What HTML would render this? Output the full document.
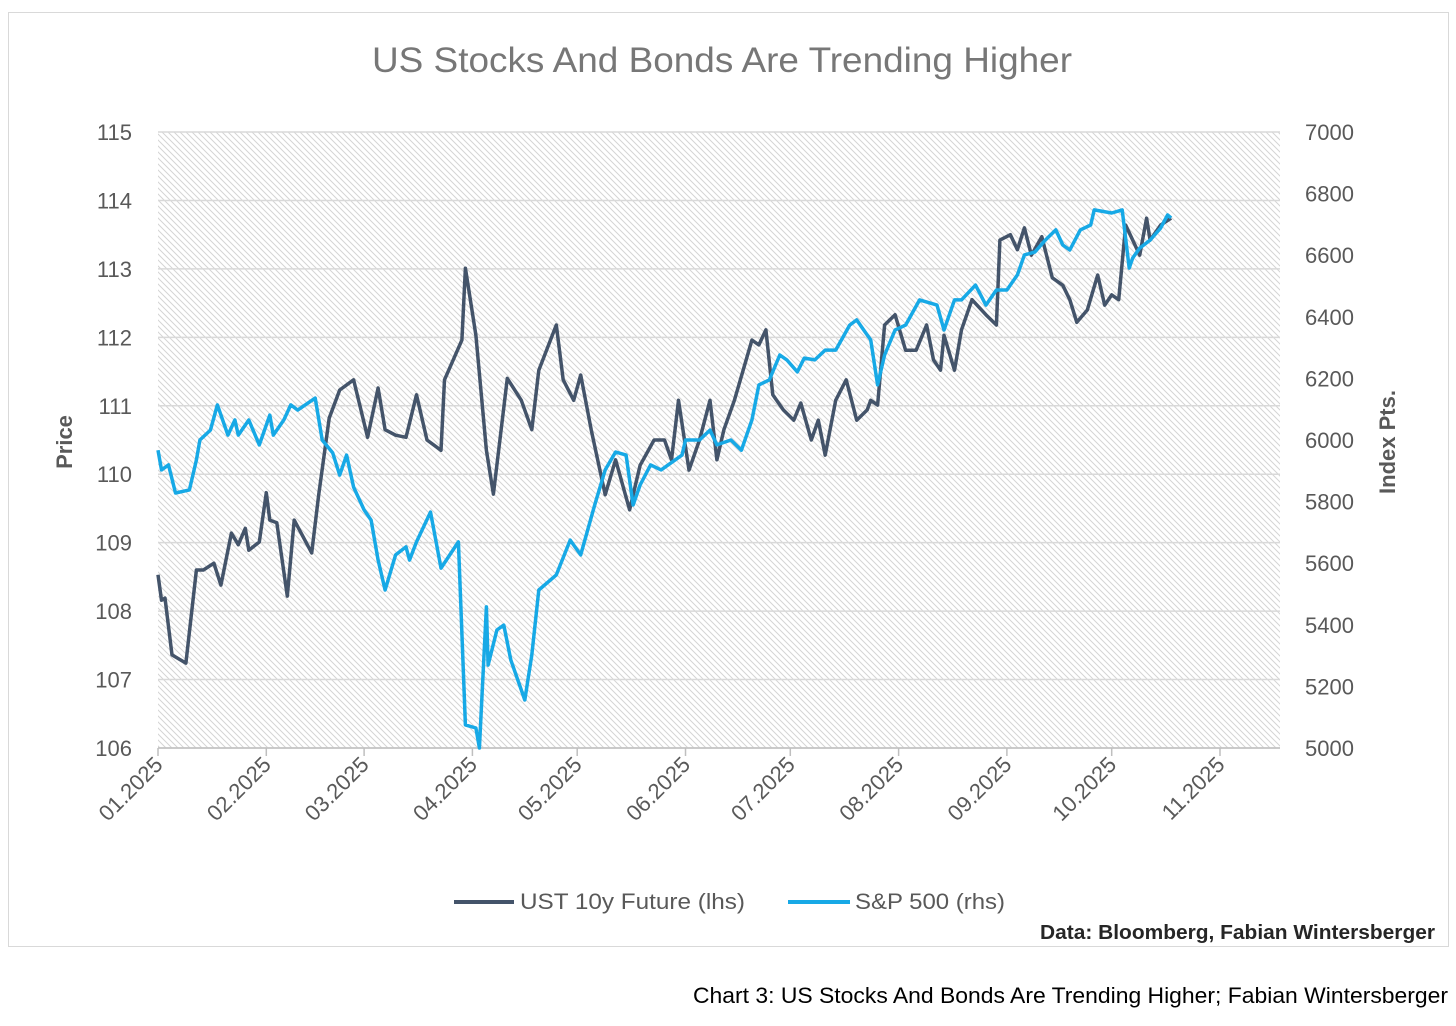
<!DOCTYPE html>
<html><head><meta charset="utf-8"><style>
body{margin:0;background:#fff;width:1456px;height:1021px;overflow:hidden;font-family:"Liberation Sans",sans-serif}
</style></head><body>
<svg width="1456" height="1021" xmlns="http://www.w3.org/2000/svg">
<defs><pattern id="hatch" width="6" height="6" patternUnits="userSpaceOnUse"><path d="M-1,-1 L7,7 M-1,5 L1,7 M5,-1 L7,1" stroke="#d4d4d4" stroke-width="1"/></pattern></defs>
<rect x="8.5" y="12.5" width="1440" height="934" fill="#fff" stroke="#d9d9d9"/>
<text x="722" y="72" text-anchor="middle" font-size="35" fill="#777" textLength="700" lengthAdjust="spacingAndGlyphs">US Stocks And Bonds Are Trending Higher</text>
<rect x="158" y="132" width="1122" height="616" fill="url(#hatch)"/>
<g id="grid"></g><g id="axes"></g>
<g id="series"></g>
<text transform="translate(72,442) rotate(-90)" text-anchor="middle" font-size="22" font-weight="bold" fill="#595959">Price</text>
<text transform="translate(1395,442) rotate(-90)" text-anchor="middle" font-size="22" font-weight="bold" fill="#595959">Index Pts.</text>
<g>
<line x1="454" y1="902" x2="514" y2="902" stroke="#44546a" stroke-width="4"/>
<text x="520" y="909" font-size="22" fill="#595959" textLength="225" lengthAdjust="spacingAndGlyphs">UST 10y Future (lhs)</text>
<line x1="788" y1="902" x2="850" y2="902" stroke="#17a9e6" stroke-width="4"/>
<text x="855" y="909" font-size="22" fill="#595959" textLength="150" lengthAdjust="spacingAndGlyphs">S&amp;P 500 (rhs)</text>
</g>
<text x="1435" y="939" text-anchor="end" font-size="20" font-weight="bold" fill="#262626" textLength="395" lengthAdjust="spacingAndGlyphs">Data: Bloomberg, Fabian Wintersberger</text>
<text x="1448" y="1003" text-anchor="end" font-size="22" fill="#000" textLength="755" lengthAdjust="spacingAndGlyphs">Chart 3: US Stocks And Bonds Are Trending Higher; Fabian Wintersberger</text>
</svg>
<script>
const leftTicks=[106,107,108,109,110,111,112,113,114,115];
const rightTicks=[5000,5200,5400,5600,5800,6000,6200,6400,6600,6800,7000];
const monthLabels=["01.2025","02.2025","03.2025","04.2025","05.2025","06.2025","07.2025","08.2025","09.2025","10.2025","11.2025"];
const monthDays=[0,31,59,90,120,151,181,212,243,273,304];
const ustDays=[0,1,2,4,8,11,13,16,18,21,23,25,26,29,31,32,34,37,39,44,46,49,52,56,60,63,65,68,71,74,77,81,82,87,88,91,94,96,100,104,107,109,114,116,119,121,124,128,131,135,138,142,145,147,149,152,155,158,160,162,165,170,172,174,176,179,182,184,187,189,191,194,197,200,203,204,206,208,211,214,217,220,222,224,225,228,230,233,237,240,241,244,246,248,250,253,256,259,261,263,266,269,271,273,275,277,279,281,283,284,287,290];
const ustValues=[108.53,108.16,108.19,107.36,107.24,108.6,108.6,108.7,108.38,109.14,108.97,109.21,108.89,109.01,109.73,109.33,109.29,108.22,109.33,108.85,109.7,110.82,111.23,111.38,110.54,111.26,110.65,110.57,110.54,111.16,110.5,110.35,111.38,111.96,113.01,112.03,110.35,109.71,111.4,111.08,110.65,111.52,112.18,111.38,111.08,111.45,110.65,109.7,110.21,109.48,110.13,110.5,110.5,110.21,111.08,110.06,110.5,111.08,110.21,110.65,111.08,111.96,111.89,112.11,111.16,110.94,110.79,111.04,110.5,110.79,110.28,111.08,111.38,110.79,110.94,111.08,111.01,112.18,112.33,111.81,111.81,112.18,111.67,111.52,112.03,111.52,112.11,112.55,112.33,112.18,113.42,113.5,113.28,113.6,113.2,113.47,112.87,112.76,112.55,112.22,112.4,112.91,112.47,112.62,112.55,113.64,113.42,113.2,113.74,113.42,113.64,113.74];
const spxDays=[0,1,3,5,9,11,12,15,17,20,22,23,26,29,32,33,36,38,40,45,47,50,52,54,56,59,61,63,65,68,71,72,74,78,81,86,88,91,92,94,94.5,97,99,101,105,107,109,114,118,121,125,128,131,134,136,138,141,144,150,151,155,158,160,164,167,170,172,175,178,180,183,185,188,191,194,198,200,202,204,206,208,211,214,218,223,225,228,230,234,237,240,243,246,248,251,254,257,259,261,264,267,268,273,276,278,279,281,284,287,289,290];
const spxValues=[5967,5903,5919,5828,5838,5935,6000,6032,6114,6016,6065,6016,6065,5984,6081,6016,6065,6114,6097,6136,6000,5958,5886,5951,5847,5773,5740,5610,5513,5627,5653,5610,5669,5766,5584,5669,5075,5065,5000,5458,5269,5383,5399,5286,5156,5302,5513,5562,5675,5627,5789,5903,5961,5951,5789,5854,5919,5903,5951,6000,6000,6032,5984,6000,5967,6065,6179,6195,6276,6260,6221,6266,6260,6292,6292,6373,6390,6357,6325,6179,6276,6357,6373,6455,6438,6357,6455,6455,6503,6438,6487,6487,6536,6601,6610,6649,6682,6633,6617,6682,6698,6747,6737,6747,6558,6591,6623,6649,6688,6731,6721];
const NS="http://www.w3.org/2000/svg";
const X0=158,X1=1220,Y0=748,Y1=132;
const xS=d=>X0+d*(X1-X0)/304;
const yL=v=>Y0-(v-106)*(Y0-Y1)/9;
const yR=v=>Y0-(v-5000)*(Y0-Y1)/2000;
function mk(tag,attrs,parent){const e=document.createElementNS(NS,tag);for(const k in attrs)e.setAttribute(k,attrs[k]);parent.appendChild(e);return e;}
const grid=document.getElementById('grid'),axes=document.getElementById('axes'),series=document.getElementById('series');
leftTicks.forEach(v=>{
 const g=mk('line',{x1:158,x2:1280,y1:yL(v),y2:yL(v),stroke:'#d9d9d9','stroke-width':1.5},grid);
 
 
 const t=mk('text',{x:132,y:yL(v)+8,'text-anchor':'end','font-size':22,fill:'#595959'},axes);
 t.textContent=v;
 
 
});
rightTicks.forEach(v=>{
 const t=mk('text',{x:1305,y:yR(v)+8,'font-size':22,fill:'#595959'},axes);
 t.textContent=v;
 
 
});
const ax=mk('line',{x1:158,x2:1280,y1:748,y2:748,stroke:'#bfbfbf','stroke-width':1.5},axes);


monthDays.forEach((d,i)=>{
 const x=xS(d);
 const tk=mk('line',{x1:x,x2:x,y1:748,y2:756,stroke:'#bfbfbf','stroke-width':1.5},axes);
 
 
 const t=mk('text',{transform:`translate(${x+6},${766}) rotate(-45)`,'text-anchor':'end','font-size':22,fill:'#595959'},axes);
 t.textContent=monthLabels[i];
 
 
});
function line(days,vals,yf,color,name){
 const p=mk('polyline',{points:days.map((d,i)=>xS(d).toFixed(1)+','+yf(vals[i]).toFixed(1)).join(' '),fill:'none',stroke:color,'stroke-width':3.5,'stroke-linejoin':'round'},series);
 
 
}
line(ustDays,ustValues,yL,'#44546a','ust-10y-line');
line(spxDays,spxValues,yR,'#17a9e6','sp500-line');
</script>
</body></html>
